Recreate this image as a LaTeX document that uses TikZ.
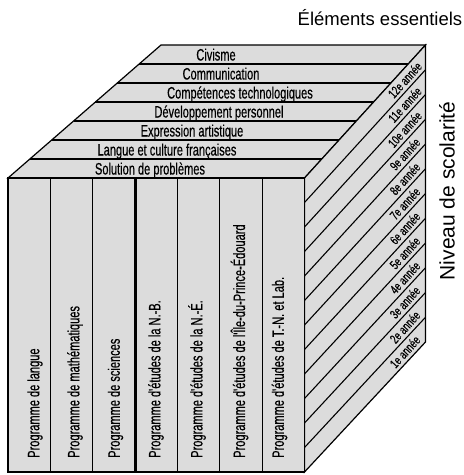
\documentclass[tikz,border=0pt]{standalone}
\usepackage{fontspec}
\setmainfont{Liberation Sans}
\newfontfamily\condf[FakeStretch=0.67,FakeBold=0.4]{Liberation Sans}
\newfontfamily\gradef[FakeStretch=0.7,FakeBold=0.4]{Liberation Sans}
\usetikzlibrary{calc}
\definecolor{facegray}{HTML}{DCDCDC}
\begin{document}
\begin{tikzpicture}[x=1pt,y=-1pt,line join=miter,
  edge/.style={draw=black,line width=1.1pt},
  face/.style={fill=facegray,draw=black,line width=1.2pt},
  toplbl/.style={font=\condf\fontsize{16.5}{16.5}\selectfont,inner sep=0pt,anchor=base},
  frontlbl/.style={font=\condf\fontsize{16.5}{16.5}\selectfont,inner sep=0pt,anchor=west,rotate=90},
  gradelbl/.style={font=\gradef\fontsize{13}{13}\selectfont,inner sep=0pt,rotate=47.7},
  bigtxt/.style={font=\fontsize{18.5}{18.5}\selectfont,inner sep=0pt}]
\useasboundingbox (0,0) rectangle (464,475);
% cube corners
\coordinate (FTL) at (8,178);
\coordinate (FTR) at (304.5,178);
\coordinate (FBL) at (8,472);
\coordinate (FBR) at (304.5,472);
\coordinate (BTL) at (161,45);
\coordinate (BTR) at (425.5,45);
\coordinate (BBR) at (425.5,342);
% top face
\draw[face] (FTL) -- (BTL) -- (BTR) -- (FTR) -- cycle;
\foreach \j in {1,...,6}{
  \draw[edge] ($(FTL)!{1-\j/7}!(BTL)$) -- ($(FTR)!{1-\j/7}!(BTR)$);
}
% right face
\draw[face] (FTR) -- (BTR) -- (BBR) -- (FBR) -- cycle;
\foreach \k in {1,...,11}{
  \draw[edge] ($(FTR)!{\k/12}!(FBR)$) -- ($(BTR)!{\k/12}!(BBR)$);
}
% front face
\draw[face] (FTL) rectangle (FBR);
\foreach \i in {1,2,4,5,6}{
  \draw[edge] ($(FTL)!{\i/7}!(FTR)$) -- ($(FBL)!{\i/7}!(FBR)$);
}
\draw[draw=black,line width=3pt] ($(FTL)!{3/7}!(FTR)$) -- ($(FBL)!{3/7}!(FBR)$);
\draw[draw=black,line width=1.4pt] (FTL) rectangle (FBR);
% top labels
\node[toplbl] (t1) at (216,60.5) {Civisme};
\node[toplbl] (t2) at (221,79.5) {Communication};
\node[toplbl] (t3) at (240,98.5) {Compétences technologiques};
\node[toplbl] (t4) at (219,117.5) {Développement personnel};
\node[toplbl] (t5) at (192,136.5) {Expression artistique};
\node[toplbl] (t6) at (167,155.5) {Langue et culture françaises};
\node[toplbl] (t7) at (150,174.5) {Solution de problèmes};
% front labels
\node[frontlbl] (f1) at (35,458) {Programme de langue};
\node[frontlbl] (f2) at (75,458) {Programme de mathématiques};
\node[frontlbl] (f3) at (115.5,458) {Programme de sciences};
\node[frontlbl] (f4) at (156,458) {Programme d'études de la N.-B.};
\node[frontlbl] (f5) at (197,458) {Programme d'études de la N.-É.};
\node[frontlbl] (f6) at (239.5,458) {Programme d'études de l'Île-du-Prince-Édouard};
\node[frontlbl] (f7) at (279.5,458) {Programme d'études de T.-N. et Lab.};
% grade labels
\foreach \lbl [count=\i from 0] in {12e,11e,10e,9e,8e,7e,6e,5e,4e,3e,2e,1e}{
  \node[gradelbl] (g\i) at ($($(FTR)!{(\i+0.5)/12}!(FBR)$)!0.83!($(BTR)!{(\i+0.5)/12}!(BBR)$)$) {\lbl\ année};
}
% titles
\node[bigtxt] (title) at (380,18) {Éléments essentiels};
\node[bigtxt,font=\fontsize{21}{21}\selectfont,rotate=90] (axis) at (447,191) {Niveau de scolarité};
\end{tikzpicture}
\end{document}
